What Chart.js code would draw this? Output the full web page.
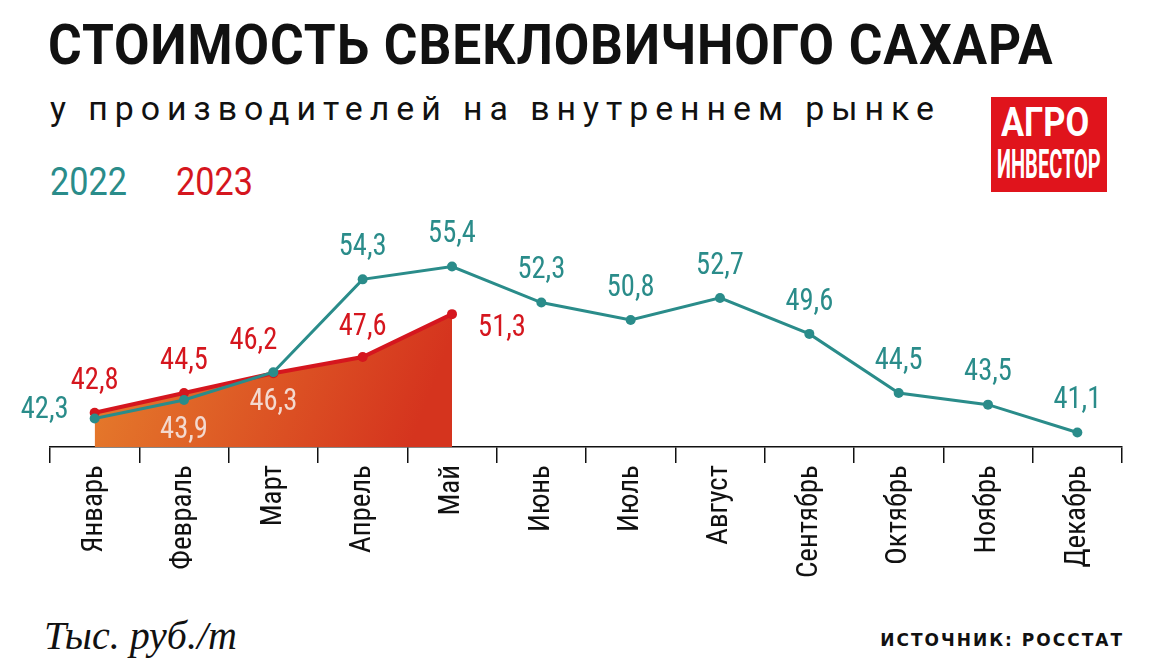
<!DOCTYPE html>
<html><head><meta charset="utf-8">
<script src="https://cdn.jsdelivr.net/npm/chart.js@4"></script>
<style>
body{margin:0;width:1172px;height:668px;background:#fff;position:relative;overflow:hidden;font-family:"Roboto",sans-serif}
.t{position:absolute;white-space:nowrap;transform-origin:0 0}
#title{left:48px;top:12px;font:bold 56px "Roboto",sans-serif;letter-spacing:1px;color:#111;transform:scaleX(0.92)}
#sub{left:50px;top:88px;font:34px "Roboto",sans-serif;letter-spacing:7px;color:#111;transform:scaleX(0.995)}
#l22{left:50px;top:160px;font:38px "Roboto",sans-serif;color:#2a8c8a;transform:scaleX(0.9)}
#l23{left:176px;top:160px;font:38px "Roboto",sans-serif;color:#d5161e;transform:scaleX(0.9)}
#logo{position:absolute;left:991px;top:97px;width:116px;height:95px;background:#e0141c;color:#fff;overflow:hidden}
#logo div{position:absolute;left:8px;white-space:nowrap;font:bold 40px "Roboto",sans-serif;transform-origin:0 0}
#unit{left:44px;top:612px;font:italic 40px "Liberation Serif",serif;color:#111}
#src{right:48px;top:630px;font:bold 17px "DejaVu Sans",sans-serif;letter-spacing:2px;color:#111}
#wrap{position:absolute;left:0;top:190px;width:1172px;height:410px}
</style></head><body>
<div class="t" id="title">СТОИМОСТЬ СВЕКЛОВИЧНОГО САХАРА</div>
<div class="t" id="sub">у производителей на внутреннем рынке</div>
<div class="t" id="l22">2022</div>
<div class="t" id="l23">2023</div>
<div id="logo"><div style="top:2px;left:10px;transform:scaleX(0.86)">АГРО</div><div style="top:44px;left:6px;transform:scaleX(0.5)">ИНВЕСТОР</div></div>
<div id="wrap"><canvas id="c"></canvas></div>
<div class="t" id="unit">Тыс. руб./т</div>
<div class="t" id="src">ИСТОЧНИК: РОССТАТ</div>
<script>
const months = ['Январь','Февраль','Март','Апрель','Май','Июнь','Июль','Август','Сентябрь','Октябрь','Ноябрь','Декабрь'];
const values2022 = [42.3,43.9,46.3,54.3,55.4,52.3,50.8,52.7,49.6,44.5,43.5,41.1];
const values2023 = [42.8,44.5,46.2,47.6,51.3];
// label placement: [dx, dy] from point
const pos2022 = [[-50,-8],[0,30],[0,30],[0,-32],[0,-32],[0,-32],[0,-32],[0,-32],[0,-32],[0,-32],[0,-32],[0,-32]];
const pos2023 = [[0,-32],[0,-32],[-20,-32],[0,-30],[50,14]];

const teal = '#2a8c8a', red = '#d5161e';

const labelsPlugin = {
  id: 'vals',
  afterDatasetsDraw(chart) {
    const ctx = chart.ctx;
    ctx.save();
    ctx.font = '31px "Roboto Condensed", "Roboto", sans-serif';
    ctx.textAlign = 'center';
    ctx.textBaseline = 'middle';
    [[1, values2022, pos2022], [0, values2023, pos2023]].forEach(([di, vals, pos]) => {
      const meta = chart.getDatasetMeta(di);
      meta.data.forEach((p, i) => {
        let col = di === 1 ? teal : red;
        if (di === 1 && (i === 1 || i === 2)) col = '#f3d9cf';
        ctx.fillStyle = col;
        const x = p.x + pos[i][0], y = p.y + pos[i][1];
        ctx.save();
        ctx.translate(x, y);
        ctx.scale(0.92, 1);
        ctx.fillText(vals[i].toFixed(1).replace('.', ','), 0, 0);
        ctx.restore();
      });
    });
    ctx.restore();
  }
};

const ctx = document.getElementById('c').getContext('2d');
new Chart(ctx, {
  type: 'line',
  data: {
    labels: months,
    datasets: [{
      data: values2023,
      borderColor: red,
      borderWidth: 4,
      pointRadius: 5,
      pointBackgroundColor: red,
      pointBorderWidth: 0,
      fill: 'origin',
      backgroundColor: function(c) {
        const a = c.chart.chartArea;
        if (!a) return '#e0702a';
        const g = c.chart.ctx.createLinearGradient(a.left, 120, a.left + 360, a.bottom);
        g.addColorStop(0, '#e8892e');
        g.addColorStop(1, '#d5341e');
        return g;
      },
      order: 2
    }, {
      data: values2022,
      borderColor: teal,
      borderWidth: 3,
      pointRadius: 5,
      pointBackgroundColor: teal,
      pointBorderWidth: 0,
      fill: false,
      order: 1
    }]
  },
  options: {
    responsive: true,
    maintainAspectRatio: false,
    animation: false,
    layout: { padding: { left: 50, right: 50, top: 0, bottom: 0 } },
    plugins: { legend: { display: false }, tooltip: { enabled: false } },
    scales: {
      x: {
        offset: true,
        afterFit(s) { s.height = 153; },
        grid: { offset: true, drawOnChartArea: false, tickLength: 16, color: '#111', lineWidth: 1.5 },
        border: { color: '#111', width: 1.5 },
        ticks: { minRotation: 90, maxRotation: 90, color: '#111', padding: 2,
                 font: { size: 29, family: '"Roboto Condensed", "Liberation Sans Narrow", sans-serif' } }
      },
      y: { display: false, min: 39.85, max: 61.57 }
    }
  },
  plugins: [labelsPlugin]
});
</script>
</body></html>
